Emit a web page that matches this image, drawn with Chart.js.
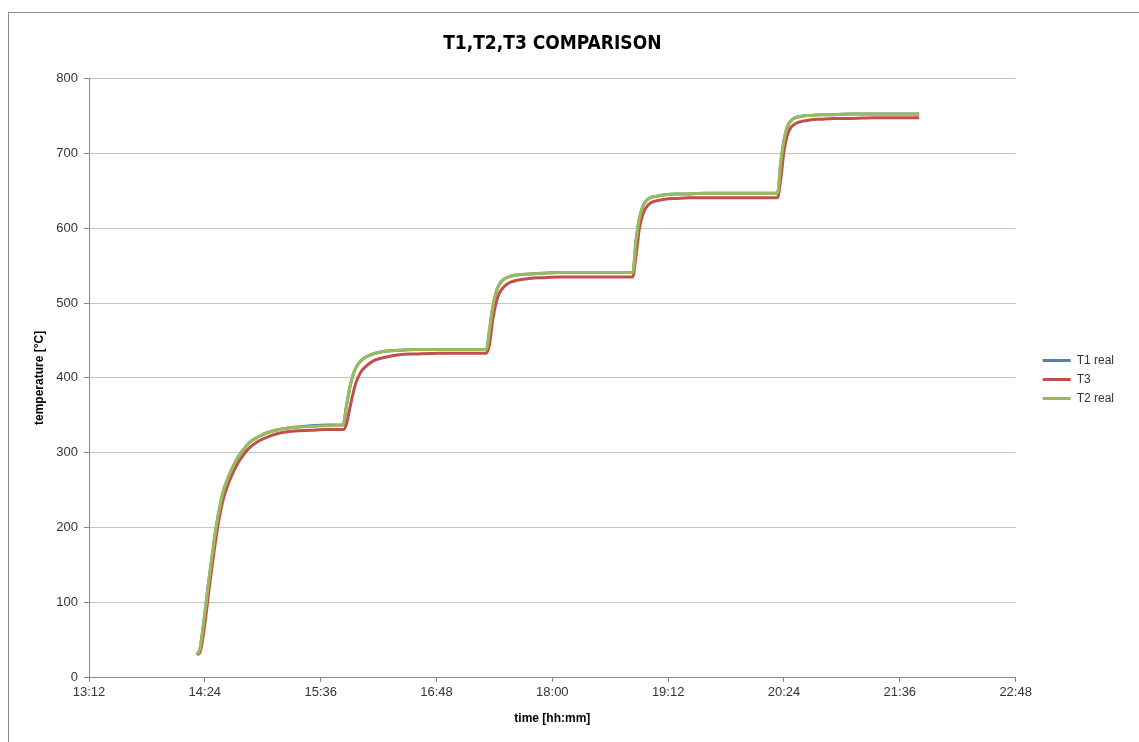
<!DOCTYPE html>
<html>
<head>
<meta charset="utf-8">
<script src="https://cdn.jsdelivr.net/npm/chart.js@4/dist/chart.umd.min.js"></script>
<style>
  html, body { margin: 0; padding: 0; background: #fff; }
  #wrap { position: relative; width: 1139px; height: 742px; }
  #frame { position: absolute; left: 8px; top: 12px; width: 1200px; height: 800px;
           border-left: 1px solid #8a8a8a; border-top: 1px solid #8a8a8a; }
  canvas { position: absolute; left: 0; top: 0; }
</style>
</head>
<body>
<div id="wrap">
  <div id="frame"></div>
  <canvas id="myChart" width="1139" height="742"></canvas>
</div>
<script>
var times = [
  "14:19","14:21","14:23","14:25","14:27","14:29","14:31","14:33","14:35","14:38","14:41",
  "14:44","14:48","14:52","14:57","15:03","15:10","15:20","15:30","15:40","15:50",
  "15:52","15:54","15:56","15:58","16:01","16:05","16:10","16:17","16:25","16:35","16:50","17:19",
  "17:21","17:23","17:25","17:27","17:30","17:34","17:39","17:46","17:54","18:04","18:19","18:50",
  "18:52","18:54","18:56","18:58","19:01","19:05","19:10","19:17","19:25","19:35","19:50","20:20",
  "20:22","20:24","20:26","20:28","20:31","20:35","20:40","20:47","20:55","21:05","21:20","21:48"
];

var t1Real = [
  30, 38, 68, 103, 138, 169, 200, 224, 245, 264, 279, 292, 304, 314, 321, 327, 331, 334, 336, 337, 337,
  362, 386, 403, 414, 423, 429, 433, 436, 437, 438, 438, 438,
  465, 495, 514, 525, 532, 536, 538, 539, 540, 541, 541, 541,
  583, 612, 628, 636, 641, 643, 645, 646, 646, 647, 647, 647,
  688, 718, 735, 743, 748, 750, 751, 752, 752, 753, 753, 753
];

var t3 = [
  30, 33, 55, 88, 124, 156, 187, 213, 234, 255, 271, 284, 297, 307, 315, 321, 326, 329, 330, 331, 331,
  338, 358, 378, 394, 408, 417, 424, 428, 431, 432, 433, 433,
  445, 478, 500, 513, 522, 528, 531, 533, 534, 535, 535, 535,
  563, 598, 617, 627, 634, 637, 639, 640, 641, 641, 641, 641,
  666, 703, 724, 734, 740, 743, 745, 746, 747, 747, 748, 748
];

var t2Real = [
  30, 38, 68, 103, 138, 169, 200, 224, 245, 264, 279, 292, 304, 314, 321, 327, 331, 334, 335, 336, 337,
  362, 386, 403, 414, 423, 429, 433, 436, 437, 438, 438, 438,
  465, 495, 514, 525, 532, 536, 538, 539, 540, 541, 541, 541,
  583, 612, 628, 636, 641, 643, 645, 646, 646, 647, 647, 647,
  688, 718, 735, 743, 748, 750, 751, 752, 752, 753, 753, 753
];

var xMin = "13:12", xMax = "22:48", xStep = 72;
var yTicks = [0, 100, 200, 300, 400, 500, 600, 700, 800];

function toMin(s) {
  var p = s.split(":");
  return parseInt(p[0], 10) * 60 + parseInt(p[1], 10);
}
function toHHMM(m) {
  var h = Math.floor(m / 60), mm = Math.round(m % 60);
  return h + ":" + (mm < 10 ? "0" : "") + mm;
}
function pts(vals) {
  return vals.map(function (v, i) { return { x: toMin(times[i]), y: v }; });
}

var txt = '"Liberation Sans", Arial, sans-serif';
var narrow = '"DejaVu Sans Condensed", "Liberation Sans Narrow", "Liberation Sans", Arial, sans-serif';

// push the legend a little away from the plot, like Excel does
var legendShift = {
  id: 'legendShift',
  afterLayout: function (chart) {
    chart.legend.left += 20;
    chart.legend.right += 20;
  }
};

var ctx = document.getElementById("myChart").getContext("2d");
new Chart(ctx, {
  type: 'line',
  data: {
    datasets: [
      { label: "T1 real", data: pts(t1Real), borderColor: '#4F81BD', backgroundColor: '#4F81BD', borderWidth: 3, order: 3 },
      { label: "T3", data: pts(t3), borderColor: '#C0504D', backgroundColor: '#C0504D', borderWidth: 3, order: 2 },
      { label: "T2 real", data: pts(t2Real), borderColor: '#9BBB59', backgroundColor: '#9BBB59', borderWidth: 3, order: 1 }
    ]
  },
  options: {
    responsive: false,
    animation: false,
    events: [],
    layout: { padding: { left: 8, top: 33, right: 35, bottom: 16 } },
    elements: {
      point: { radius: 0 },
      line: { cubicInterpolationMode: 'monotone', fill: false }
    },
    plugins: {
      title: {
        display: true,
        text: "T1,T2,T3 COMPARISON",
        fullSize: false,
        color: '#000',
        font: { family: narrow, size: 19, weight: 'bold' },
        padding: { top: 0, bottom: 23 }
      },
      legend: {
        position: 'right',
        labels: {
          color: '#333',
          font: { family: txt, size: 12 },
          usePointStyle: true,
          pointStyle: 'line',
          pointStyleWidth: 28,
          padding: 7,
          sort: function (a, b) { return a.datasetIndex - b.datasetIndex; }
        }
      },
      tooltip: { enabled: false }
    },
    scales: {
      x: {
        type: 'linear',
        min: toMin(xMin),
        max: toMin(xMax),
        ticks: {
          stepSize: xStep,
          color: '#333',
          font: { family: txt, size: 13 },
          padding: 3,
          maxRotation: 0,
          callback: function (v) { return toHHMM(v); }
        },
        grid: { drawOnChartArea: false, drawTicks: true, tickLength: 5, color: '#868686' },
        border: { display: true, color: '#868686' },
        title: {
          display: true,
          text: "time [hh:mm]",
          color: '#000',
          font: { family: txt, size: 12, weight: 'bold' },
          padding: { top: 8, bottom: 0 }
        }
      },
      y: {
        min: yTicks[0],
        max: yTicks[yTicks.length - 1],
        afterBuildTicks: function (s) { s.ticks = yTicks.map(function (v) { return { value: v }; }); },
        afterFit: function (s) { s.width = 81; },
        ticks: { color: '#333', font: { family: txt, size: 13 }, padding: 6 },
        grid: { color: '#c4c4c4', tickColor: '#868686', tickLength: 5 },
        border: { display: true, color: '#868686' },
        title: {
          display: true,
          text: "temperature [°C]",
          color: '#000',
          font: { family: txt, size: 12, weight: 'bold' },
          padding: { top: 24, bottom: 0 }
        }
      }
    }
  },
  plugins: [legendShift]
});
</script>
</body>
</html>
